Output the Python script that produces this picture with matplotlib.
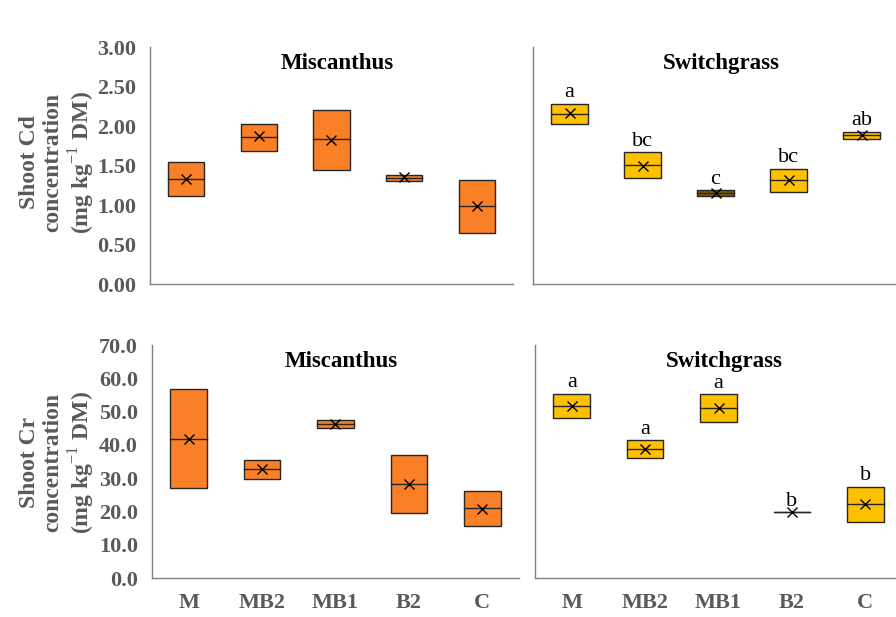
import numpy as np
import matplotlib
matplotlib.use("Agg")
import matplotlib.pyplot as plt
from matplotlib.patches import Rectangle

plt.rcParams["font.family"] = ["Liberation Serif", "DejaVu Serif"]
plt.rcParams["mathtext.fontset"] = "custom"
plt.rcParams["mathtext.rm"] = "Liberation Serif"
plt.rcParams["mathtext.bf"] = "Liberation Serif:bold"

treatments = ["M", "MB2", "MB1", "B2", "C"]

# Cd (mg kg-1 DM): box low / high, median, mean
cd_mis_low = [1.12, 1.69, 1.44, 1.30, 0.65]
cd_mis_high = [1.54, 2.03, 2.20, 1.38, 1.32]
cd_mis_med = [1.33, 1.86, 1.83, 1.34, 0.99]
cd_mis_mean = [1.33, 1.87, 1.82, 1.35, 0.99]

cd_sw_low = [2.03, 1.34, 1.12, 1.17, 1.84]
cd_sw_high = [2.28, 1.67, 1.19, 1.46, 1.93]
cd_sw_med = [2.15, 1.51, 1.15, 1.32, 1.88]
cd_sw_mean = [2.16, 1.50, 1.15, 1.32, 1.89]
cd_sw_letters = ["a", "bc", "c", "bc", "ab"]

# Cr (mg kg-1 DM)
cr_mis_low = [27.0, 29.6, 45.0, 19.4, 15.5]
cr_mis_high = [56.7, 35.6, 47.6, 37.1, 26.1]
cr_mis_med = [41.9, 32.8, 46.3, 28.2, 20.9]
cr_mis_mean = [41.8, 32.7, 46.3, 28.1, 20.8]

cr_sw_low = [48.0, 36.1, 46.9, 19.7, 16.8]
cr_sw_high = [55.4, 41.4, 55.3, 19.7, 27.4]
cr_sw_med = [51.8, 38.8, 51.2, 19.7, 22.3]
cr_sw_mean = [51.8, 38.7, 51.0, 19.7, 22.2]
cr_sw_letters = ["a", "a", "a", "b", "b"]

ORANGE = "#F98026"
YELLOW = "#FFC000"
BROWN = "#7F5A08"
GRAY = "#595959"


def draw_boxes(ax, low, high, med, mean, colors, letters=None, ymax=3.0):
    w = 0.5
    for i in range(len(low)):
        ax.add_patch(Rectangle((i - w / 2, low[i]), w, high[i] - low[i],
                               facecolor=colors[i], edgecolor="#262626", linewidth=1.0, zorder=2))
        ax.plot([i - w / 2, i + w / 2], [med[i], med[i]], color="#262626", linewidth=1.0, zorder=3)
        ax.plot(i, mean[i], marker="x", color="black", markersize=7, markeredgewidth=1.0, zorder=4)
        if letters:
            ax.text(i, high[i] + ymax * 0.006, letters[i], ha="center", va="bottom",
                    fontsize=16, color="black")


def style_axes(ax, ymax, step, fmt, xlabels, ylabels, title):
    ax.set_xlim(-0.5, 4.5)
    ax.set_ylim(0, ymax)
    for s in ["top", "right"]:
        ax.spines[s].set_visible(False)
    for s in ["left", "bottom"]:
        ax.spines[s].set_color("#7f7f7f")
        ax.spines[s].set_linewidth(1.0)
    ax.tick_params(length=0)
    ax.set_yticks(np.arange(0, ymax + step / 2, step))
    if ylabels:
        ax.set_yticklabels([fmt.format(v) for v in np.arange(0, ymax + step / 2, step)],
                           fontsize=16, fontweight="bold", color=GRAY)
        ax.tick_params(axis="y", pad=10)
    else:
        ax.set_yticklabels([])
    ax.set_xticks(range(len(treatments)))
    if xlabels:
        ax.set_xticklabels(treatments, fontsize=16, fontweight="bold", color=GRAY)
        ax.tick_params(axis="x", pad=11)
    else:
        ax.set_xticklabels([])
    ax.text(0.515, 0.93, title, transform=ax.transAxes, ha="center", va="center",
            fontsize=16.5, fontweight="bold")


fig = plt.figure(figsize=(8.96, 6.17), dpi=100)

ax1 = fig.add_axes((0.1674, 0.5397, 0.4051, 0.3841))
ax2 = fig.add_axes((0.5949, 0.5397, 0.4074, 0.3841))
ax3 = fig.add_axes((0.1696, 0.0632, 0.4096, 0.3776))
ax4 = fig.add_axes((0.5971, 0.0632, 0.4096, 0.3776))

draw_boxes(ax1, cd_mis_low, cd_mis_high, cd_mis_med, cd_mis_mean, [ORANGE] * 5)
draw_boxes(ax2, cd_sw_low, cd_sw_high, cd_sw_med, cd_sw_mean,
           [YELLOW, YELLOW, BROWN, YELLOW, YELLOW], cd_sw_letters)
draw_boxes(ax3, cr_mis_low, cr_mis_high, cr_mis_med, cr_mis_mean, [ORANGE] * 5, ymax=70)
draw_boxes(ax4, cr_sw_low, cr_sw_high, cr_sw_med, cr_sw_mean, [YELLOW] * 5, cr_sw_letters, ymax=70)

style_axes(ax1, 3.0, 0.5, "{:.2f}", False, True, "Miscanthus")
style_axes(ax2, 3.0, 0.5, "{:.2f}", False, False, "Switchgrass")
style_axes(ax3, 70, 10, "{:.1f}", True, True, "Miscanthus")
style_axes(ax4, 70, 10, "{:.1f}", True, False, "Switchgrass")

fig.text(0.065, 0.737, "Shoot Cd\nconcentration\n(mg kg$^{-1}$ DM)", rotation=90,
         ha="center", va="center", multialignment="center", fontsize=17,
         fontweight="bold", color=GRAY, linespacing=1.15)
fig.text(0.065, 0.251, "Shoot Cr\nconcentration\n(mg kg$^{-1}$ DM)", rotation=90,
         ha="center", va="center", multialignment="center", fontsize=17,
         fontweight="bold", color=GRAY, linespacing=1.15)

fig.savefig("out.png", dpi=100)
